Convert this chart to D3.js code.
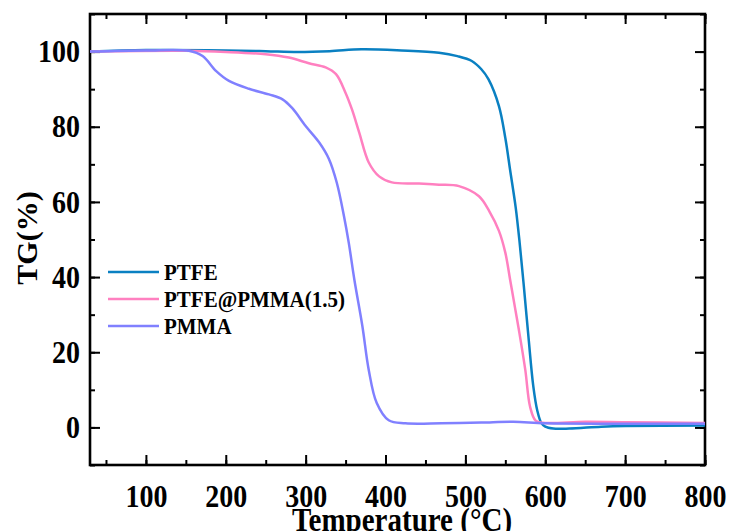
<!DOCTYPE html>
<html>
<head>
<meta charset="utf-8">
<script src="https://cdn.jsdelivr.net/npm/d3@7"></script>
<style>
  body { margin: 0; background: #fff; }
  svg text { font-family: "Liberation Serif", "Times New Roman", serif; font-weight: bold; fill: #000; }
  .tall { transform-box: fill-box; transform-origin: center; transform: scaleY(1.13); }
</style>
</head>
<body>
<svg id="chart" width="729" height="531"></svg>
<script>
// TG curves (temperature in C, mass in %)
var ptfeT  = [30, 100, 200, 250, 290, 330, 370, 420, 467, 490, 508, 520, 529, 542, 550, 556, 563, 568, 573, 579, 585, 590, 595, 600, 610, 630, 670, 700, 800];
var ptfeTG = [100.0, 100.4, 100.3, 100.1, 99.9, 100.1, 100.6, 100.3, 99.7, 98.8, 97.5, 95.3, 92.6, 85.5, 77.0, 68.5, 58.5, 49.0, 38.0, 24.0, 11.0, 4.5, 1.2, 0.2, -0.3, -0.3, 0.2, 0.4, 0.5];

var mixT  = [30, 150, 200, 250, 279, 304, 325, 338, 350, 358, 367, 379, 392, 408, 442, 467, 492, 517, 530, 542, 550, 556, 562, 567, 575, 581, 588, 600, 650, 700, 800];
var mixTG = [100.0, 100.2, 99.9, 99.3, 98.4, 96.9, 95.8, 94.0, 89.0, 84.6, 78.5, 70.5, 66.8, 65.2, 64.9, 64.6, 64.2, 61.5, 57.5, 52.3, 46.5, 39.3, 32.0, 25.9, 15.3, 5.5, 1.8, 1.2, 1.5, 1.4, 1.2];

var pmmaT  = [30, 100, 154, 171, 188, 204, 229, 254, 271, 283, 300, 317, 329, 339, 348, 354, 361, 371, 379, 389, 404, 425, 470, 520, 560, 600, 700, 800];
var pmmaTG = [100.0, 100.3, 100.2, 98.8, 94.8, 92.2, 90.1, 88.6, 87.3, 85.0, 80.2, 75.8, 71.5, 65.1, 56.2, 49.1, 39.3, 27.0, 15.3, 6.5, 1.9, 1.1, 1.1, 1.3, 1.5, 1.1, 1.0, 1.0];

var seriesNames  = ['PTFE', 'PTFE@PMMA(1.5)', 'PMMA'];
var seriesColors = ['#0a80c2', '#ff80c0', '#8080ff'];
var xTicks = [100, 200, 300, 400, 500, 600, 700, 800];
var yTicks = [0, 20, 40, 60, 80, 100];

var series = [
  {name: seriesNames[0], color: seriesColors[0], xs: ptfeT, ys: ptfeTG},
  {name: seriesNames[1], color: seriesColors[1], xs: mixT, ys: mixTG},
  {name: seriesNames[2], color: seriesColors[2], xs: pmmaT, ys: pmmaTG}
];

var plot = {left: 90, right: 705, top: 14, bottom: 465};
var svg = d3.select('#chart');

var x = d3.scaleLinear().domain([30, 800]).range([plot.left, plot.right]);
var y = d3.scaleLinear().domain([-10, 110]).range([plot.bottom, plot.top]);

var xMinor = d3.range(50, 801, 50);
var yMinor = d3.range(-10, 111, 10);

function styleAxis(g) {
  g.select('.domain').remove();
  g.selectAll('line').attr('stroke', '#000').attr('stroke-width', 2);
  g.selectAll('text').attr('class', 'tall').style('font-size', '28px');
}

// minor ticks first, all four sides
svg.append('g').attr('transform', 'translate(0,' + plot.bottom + ')')
  .call(d3.axisBottom(x).tickValues(xMinor).tickSize(-5).tickFormat(''))
  .call(styleAxis);
svg.append('g').attr('transform', 'translate(0,' + plot.top + ')')
  .call(d3.axisTop(x).tickValues(xMinor).tickSize(-5).tickFormat(''))
  .call(styleAxis);
svg.append('g').attr('transform', 'translate(' + plot.left + ',0)')
  .call(d3.axisLeft(y).tickValues(yMinor).tickSize(-5).tickFormat(''))
  .call(styleAxis);
svg.append('g').attr('transform', 'translate(' + plot.right + ',0)')
  .call(d3.axisRight(y).tickValues(yMinor).tickSize(-5).tickFormat(''))
  .call(styleAxis);

// major ticks with labels
svg.append('g').attr('transform', 'translate(0,' + plot.bottom + ')')
  .call(d3.axisBottom(x).tickValues(xTicks).tickSize(-10).tickPadding(21))
  .call(styleAxis);
svg.append('g').attr('transform', 'translate(0,' + plot.top + ')')
  .call(d3.axisTop(x).tickValues(xTicks).tickSize(-10).tickFormat(''))
  .call(styleAxis);
svg.append('g').attr('transform', 'translate(' + plot.left + ',0)')
  .call(d3.axisLeft(y).tickValues(yTicks).tickSize(-10).tickPadding(10))
  .call(styleAxis);
svg.append('g').attr('transform', 'translate(' + plot.right + ',0)')
  .call(d3.axisRight(y).tickValues(yTicks).tickSize(-10).tickFormat(''))
  .call(styleAxis);

// frame
svg.append('rect')
  .attr('x', plot.left).attr('y', plot.top)
  .attr('width', plot.right - plot.left).attr('height', plot.bottom - plot.top)
  .attr('fill', 'none').attr('stroke', '#000').attr('stroke-width', 2.6);

// curves
var line = d3.line()
  .x(function(d) { return x(d[0]); })
  .y(function(d) { return y(d[1]); })
  .curve(d3.curveCatmullRom.alpha(0.5));

svg.append('g').selectAll('path')
  .data(series)
  .enter()
  .append('path')
  .attr('d', function(s) { return line(d3.zip(s.xs, s.ys)); })
  .attr('fill', 'none')
  .attr('stroke', function(s) { return s.color; })
  .attr('stroke-width', 2.5);

// legend
var legend = svg.append('g').attr('transform', 'translate(108,272)');
var item = legend.selectAll('g')
  .data(series)
  .enter()
  .append('g')
  .attr('transform', function(d, i) { return 'translate(0,' + (i * 27) + ')'; });
item.append('line')
  .attr('x1', 0).attr('x2', 51)
  .attr('stroke', function(d) { return d.color; })
  .attr('stroke-width', 2.5);
item.append('text')
  .attr('class', 'tall')
  .attr('x', 56).attr('dy', '0.35em')
  .style('font-size', '21px')
  .text(function(d) { return d.name; });

// axis titles
svg.append('text')
  .attr('class', 'tall')
  .attr('x', 402).attr('y', 530)
  .attr('text-anchor', 'middle')
  .style('font-size', '29px')
  .text('Temperature (°C)');

svg.append('text')
  .attr('transform', 'translate(37,' + 238 + ') rotate(-90)')
  .attr('text-anchor', 'middle')
  .style('font-size', '30px')
  .text('TG(%)');
</script>
</body>
</html>
